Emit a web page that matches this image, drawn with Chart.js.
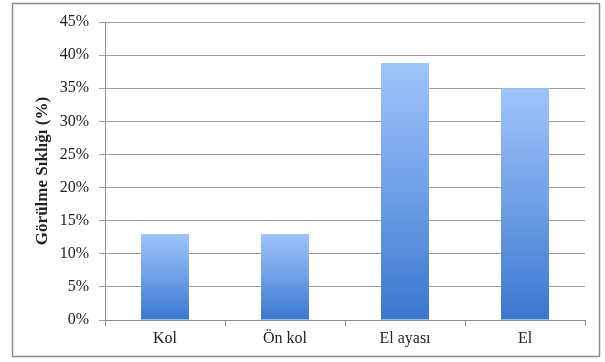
<!DOCTYPE html>
<html>
<head>
<meta charset="utf-8">
<script src="https://cdn.jsdelivr.net/npm/chart.js@4"></script>
<style>
  body { margin: 0; background: #fff; }
  #wrap { width: 605px; height: 362px; }
</style>
</head>
<body>
<div id="wrap"><canvas id="grafico" width="605" height="362"></canvas></div>
<script>
// datos
const categorias = ["Kol", "Ön kol", "El ayası", "El"];
const valores = [13, 13, 38.8, 35];
const ticksY = [0, 5, 10, 15, 20, 25, 30, 35, 40, 45];

// marco exterior
const marco = {
  id: "marco",
  beforeDraw(chart) {
    const c = chart.ctx;
    c.save();
    c.fillStyle = "#fff";
    c.fillRect(0, 0, chart.width, chart.height);
    c.strokeStyle = "#8c8c8c";
    c.lineWidth = 1.5;
    c.strokeRect(12.5, 3.5, 587, 353);
    c.restore();
  }
};

function degradado(context) {
  const chart = context.chart;
  if (!chart.chartArea) return "#6a9de6";
  const y = chart.scales.y;
  const v = context.raw;
  const top = y.getPixelForValue(v);
  const base = y.getPixelForValue(0);
  const g = chart.ctx.createLinearGradient(0, top, 0, base);
  g.addColorStop(0, "#9fc4fb");
  g.addColorStop(0.5, "#6f9fe6");
  g.addColorStop(1, "#3a77cf");
  return g;
}

const ctx = document.querySelector("#grafico").getContext("2d");
new Chart(ctx, {
  type: "bar",
  data: {
    labels: categorias,
    datasets: [{
      data: valores,
      backgroundColor: degradado,
      barPercentage: 0.4,
      categoryPercentage: 1
    }]
  },
  options: {
    responsive: false,
    animation: false,
    layout: { padding: { left: 32, right: 20, top: 22, bottom: 12 } },
    plugins: { legend: { display: false }, tooltip: { enabled: false } },
    scales: {
      x: {
        afterFit(scale) { scale.height = 30; },
        grid: { offset: true, drawOnChartArea: false, tickLength: 6, color: "#8c8c8c" },
        border: { color: "#8c8c8c" },
        ticks: { color: "#222", font: { family: "Liberation Serif", size: 16 }, padding: 3 }
      },
      y: {
        min: 0,
        max: 45,
        afterFit(scale) { scale.width = 73; },
        afterBuildTicks(scale) { scale.ticks = ticksY.map(v => ({ value: v })); },
        grid: { color: "#a0a0a0", tickLength: 6 },
        border: { color: "#8c8c8c" },
        title: {
          display: true,
          text: "Görülme Sıklığı (%)",
          color: "#222",
          font: { family: "Liberation Serif", size: 17, weight: "bold" },
          padding: 0
        },
        ticks: {
          color: "#222",
          font: { family: "Liberation Serif", size: 16 },
          padding: 10,
          callback: v => v + "%"
        }
      }
    }
  },
  plugins: [marco]
});
</script>
</body>
</html>
